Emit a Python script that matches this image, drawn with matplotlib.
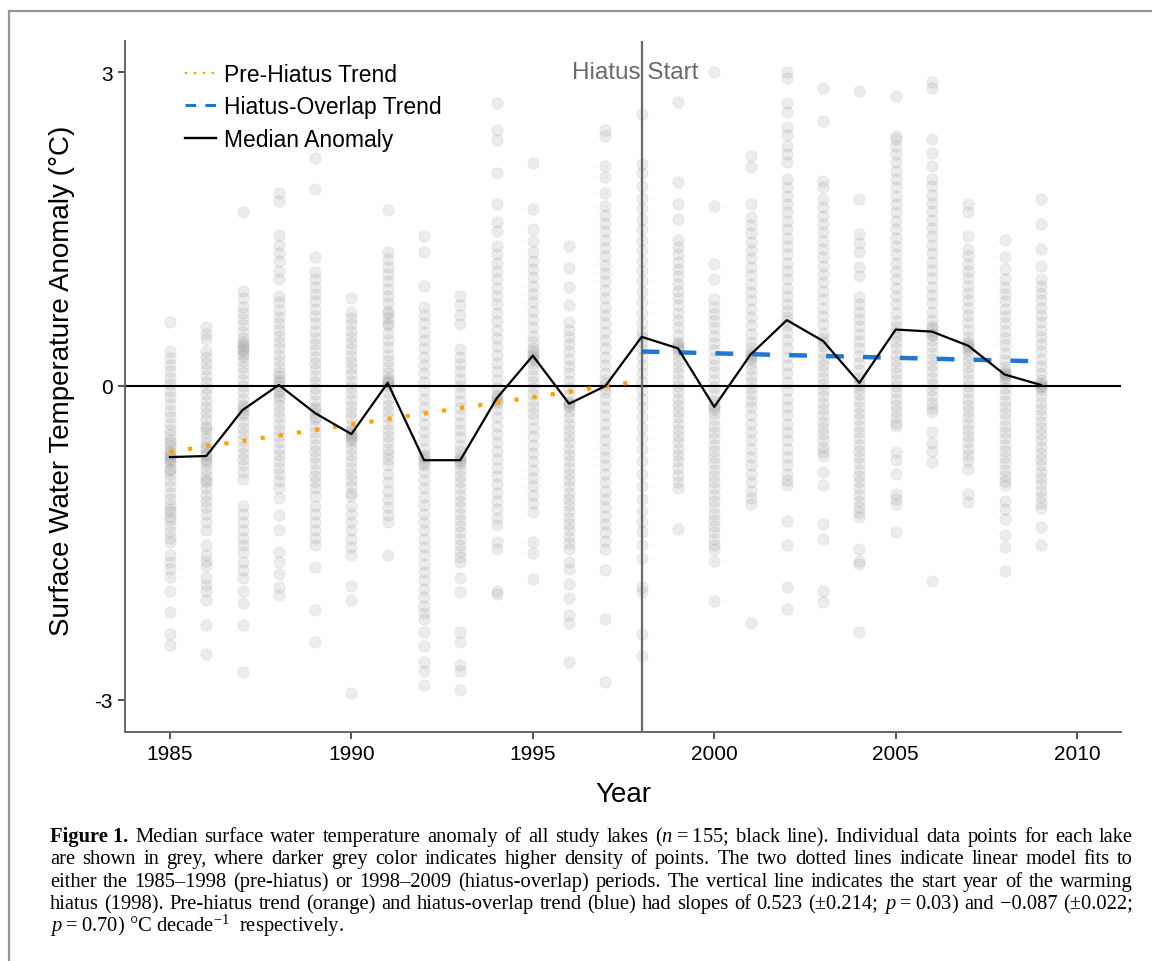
import matplotlib
matplotlib.use("Agg")
import matplotlib.pyplot as plt
import numpy as np
from matplotlib.lines import Line2D

plt.rcParams['font.family'] = ['Liberation Sans', 'DejaVu Sans']
plt.rcParams['mathtext.fontset'] = 'custom'
plt.rcParams['mathtext.rm'] = 'Liberation Serif'
plt.rcParams['mathtext.it'] = 'Liberation Serif:italic'
plt.rcParams['mathtext.bf'] = 'Liberation Serif:bold'

# ---- data ----
years = list(range(1985, 2010))

pts_1985 = [0.61, 0.33, 0.27, 0.20, 0.14, 0.08, 0.02, -0.05, -0.11, -0.17, -0.24, -0.30, -0.36, -0.42, -0.47, -0.52, -0.57, -0.62, -0.66, -0.70, -0.74, -0.79, -0.84, -0.90, -0.96, -1.02, -1.08, -1.14, -1.21, -1.28, -1.34, -1.40, -1.45, -1.49, -1.62, -1.68, -1.75, -1.83, -1.96, -2.16, -2.37, -2.48, -0.55, -0.63, -0.68, -0.72, -0.80, -1.18, -1.25]
pts_1986 = [0.56, 0.50, 0.45, 0.33, 0.28, 0.22, 0.16, 0.10, 0.04, -0.02, -0.08, -0.14, -0.20, -0.26, -0.32, -0.38, -0.44, -0.50, -0.55, -0.60, -0.65, -0.70, -0.75, -0.80, -0.86, -0.92, -0.98, -1.04, -1.10, -1.16, -1.22, -1.30, -1.38, -1.52, -1.62, -1.67, -1.72, -1.84, -1.90, -1.96, -2.05, -2.29, -2.56, -0.58, -0.66, -0.72, -0.40, -0.90]
pts_1987 = [1.66, 0.91, 0.84, 0.76, 0.70, 0.64, 0.58, 0.52, 0.46, 0.42, 0.38, 0.34, 0.29, 0.24, 0.18, 0.12, 0.06, 0.00, -0.06, -0.12, -0.18, -0.23, -0.28, -0.34, -0.40, -0.46, -0.52, -0.58, -0.64, -0.70, -0.76, -0.82, -0.89, -1.15, -1.22, -1.30, -1.38, -1.45, -1.52, -1.59, -1.68, -1.76, -1.84, -1.96, -2.08, -2.29, -2.74, 0.40, 0.35, 0.31, -0.20, -0.26]
pts_1988 = [1.85, 1.77, 1.44, 1.35, 1.27, 1.20, 1.10, 1.02, 0.86, 0.80, 0.73, 0.66, 0.60, 0.54, 0.48, 0.42, 0.36, 0.30, 0.24, 0.18, 0.12, 0.06, 0.00, -0.06, -0.12, -0.18, -0.24, -0.30, -0.36, -0.42, -0.48, -0.54, -0.60, -0.66, -0.72, -0.78, -0.84, -0.91, -0.98, -1.07, -1.23, -1.38, -1.59, -1.68, -1.80, -1.92, -2.00, 0.04, -0.04, 0.10, -0.10]
pts_1989 = [2.18, 1.88, 1.23, 1.09, 1.02, 0.95, 0.88, 0.81, 0.74, 0.67, 0.60, 0.53, 0.46, 0.40, 0.34, 0.28, 0.22, 0.16, 0.10, 0.04, -0.02, -0.08, -0.14, -0.20, -0.26, -0.32, -0.38, -0.44, -0.50, -0.56, -0.62, -0.68, -0.74, -0.80, -0.86, -0.92, -0.98, -1.05, -1.15, -1.22, -1.30, -1.38, -1.45, -1.52, -1.73, -2.14, -2.45, -0.22, -0.30]
pts_1990 = [0.84, 0.71, 0.65, 0.59, 0.53, 0.47, 0.41, 0.35, 0.29, 0.23, 0.17, 0.11, 0.05, -0.01, -0.07, -0.13, -0.19, -0.25, -0.31, -0.37, -0.42, -0.46, -0.50, -0.55, -0.60, -0.66, -0.72, -0.78, -0.84, -0.90, -0.96, -1.02, -1.05, -1.15, -1.22, -1.30, -1.38, -1.46, -1.54, -1.62, -1.91, -2.05, -2.94, -0.44, -0.48, -0.52]
pts_1991 = [1.68, 1.28, 1.21, 1.14, 1.07, 1.00, 0.93, 0.86, 0.79, 0.72, 0.65, 0.58, 0.51, 0.44, 0.37, 0.30, 0.24, 0.18, 0.12, 0.06, 0.03, 0.00, -0.06, -0.12, -0.18, -0.24, -0.30, -0.36, -0.42, -0.48, -0.54, -0.60, -0.65, -0.70, -0.76, -0.84, -0.92, -1.00, -1.08, -1.16, -1.23, -1.30, -1.62, 0.70, 0.60, 0.04, 0.08]
pts_1992 = [1.43, 1.28, 0.96, 0.76, 0.68, 0.60, 0.52, 0.44, 0.36, 0.28, 0.20, 0.12, 0.04, -0.04, -0.12, -0.20, -0.28, -0.36, -0.44, -0.52, -0.60, -0.66, -0.71, -0.76, -0.82, -0.90, -0.98, -1.06, -1.14, -1.22, -1.30, -1.38, -1.46, -1.54, -1.62, -1.70, -1.78, -1.86, -1.94, -2.02, -2.10, -2.17, -2.23, -2.35, -2.49, -2.64, -2.73, -2.86, -0.68, -0.74]
pts_1993 = [0.86, 0.77, 0.68, 0.59, 0.35, 0.28, 0.21, 0.14, 0.07, 0.00, -0.07, -0.14, -0.21, -0.28, -0.35, -0.42, -0.49, -0.56, -0.62, -0.67, -0.71, -0.75, -0.80, -0.86, -0.92, -0.98, -1.04, -1.10, -1.16, -1.22, -1.28, -1.34, -1.40, -1.46, -1.52, -1.58, -1.64, -1.68, -1.84, -1.97, -2.35, -2.45, -2.67, -2.73, -2.91, -0.69, -0.73]
pts_1994 = [2.71, 2.45, 2.35, 2.04, 1.74, 1.57, 1.48, 1.34, 1.26, 1.18, 1.10, 1.02, 0.94, 0.86, 0.78, 0.70, 0.62, 0.54, 0.46, 0.38, 0.30, 0.22, 0.14, 0.06, -0.02, -0.08, -0.12, -0.16, -0.22, -0.30, -0.38, -0.46, -0.54, -0.62, -0.70, -0.78, -0.86, -0.94, -1.02, -1.10, -1.18, -1.26, -1.33, -1.49, -1.56, -1.96, -1.99, -0.10, -0.14]
pts_1995 = [2.13, 1.69, 1.50, 1.39, 1.28, 1.20, 1.12, 1.04, 0.96, 0.88, 0.80, 0.72, 0.64, 0.56, 0.48, 0.42, 0.36, 0.31, 0.27, 0.22, 0.16, 0.10, 0.04, -0.02, -0.08, -0.14, -0.20, -0.26, -0.32, -0.40, -0.48, -0.56, -0.64, -0.72, -0.80, -0.88, -0.96, -1.04, -1.12, -1.21, -1.49, -1.60, -1.85, 0.29, 0.33, 0.25]
pts_1996 = [1.34, 1.13, 0.95, 0.77, 0.61, 0.54, 0.47, 0.40, 0.33, 0.26, 0.19, 0.12, 0.05, -0.02, -0.09, -0.15, -0.19, -0.24, -0.30, -0.36, -0.42, -0.48, -0.54, -0.60, -0.66, -0.72, -0.78, -0.84, -0.90, -0.96, -1.02, -1.08, -1.14, -1.20, -1.26, -1.32, -1.38, -1.44, -1.50, -1.56, -1.68, -1.75, -1.89, -2.03, -2.19, -2.27, -2.64, -0.16, -0.18]
pts_1997 = [2.45, 2.39, 2.10, 2.00, 1.85, 1.72, 1.64, 1.56, 1.48, 1.40, 1.32, 1.24, 1.16, 1.08, 1.00, 0.92, 0.84, 0.76, 0.68, 0.60, 0.52, 0.44, 0.36, 0.28, 0.20, 0.12, 0.06, 0.02, -0.02, -0.06, -0.12, -0.20, -0.28, -0.36, -0.44, -0.52, -0.60, -0.68, -0.76, -0.84, -0.92, -1.00, -1.08, -1.16, -1.24, -1.32, -1.40, -1.48, -1.56, -1.76, -2.23, -2.83]
pts_1998 = [2.60, 2.12, 2.04, 1.91, 1.80, 1.70, 1.60, 1.50, 1.40, 1.30, 1.20, 1.10, 1.00, 0.90, 0.80, 0.70, 0.60, 0.52, 0.47, 0.42, 0.35, 0.28, 0.20, 0.12, 0.04, -0.04, -0.12, -0.20, -0.30, -0.40, -0.50, -0.60, -0.72, -0.84, -0.96, -1.08, -1.20, -1.30, -1.40, -1.52, -1.65, -1.92, -1.97, -2.37, -2.58]
pts_1999 = [2.72, 1.95, 1.74, 1.60, 1.40, 1.33, 1.26, 1.19, 1.12, 1.05, 0.98, 0.91, 0.84, 0.77, 0.70, 0.63, 0.56, 0.49, 0.42, 0.38, 0.34, 0.30, 0.24, 0.18, 0.12, 0.06, 0.00, -0.06, -0.12, -0.18, -0.24, -0.30, -0.36, -0.42, -0.48, -0.54, -0.60, -0.66, -0.72, -0.78, -0.85, -0.92, -0.98, -1.37, 0.36, 0.40]
pts_2000 = [3.00, 1.72, 1.17, 1.02, 0.83, 0.76, 0.69, 0.62, 0.55, 0.48, 0.41, 0.34, 0.27, 0.20, 0.13, 0.06, -0.01, -0.08, -0.14, -0.18, -0.22, -0.26, -0.32, -0.38, -0.44, -0.50, -0.56, -0.62, -0.68, -0.74, -0.80, -0.86, -0.92, -0.98, -1.04, -1.10, -1.16, -1.22, -1.28, -1.34, -1.40, -1.46, -1.52, -1.56, -1.67, -2.06, -0.20]
pts_2001 = [2.20, 2.09, 1.74, 1.62, 1.54, 1.46, 1.38, 1.30, 1.22, 1.14, 1.06, 0.98, 0.90, 0.82, 0.74, 0.66, 0.58, 0.50, 0.42, 0.36, 0.32, 0.28, 0.22, 0.16, 0.10, 0.04, -0.02, -0.08, -0.14, -0.20, -0.28, -0.36, -0.44, -0.52, -0.60, -0.68, -0.76, -0.84, -0.92, -1.00, -1.07, -1.13, -2.27, 0.30, 0.26]
pts_2002 = [3.00, 2.95, 2.71, 2.62, 2.48, 2.40, 2.30, 2.22, 2.14, 1.98, 1.90, 1.82, 1.74, 1.66, 1.58, 1.50, 1.42, 1.34, 1.26, 1.18, 1.10, 1.02, 0.94, 0.86, 0.78, 0.72, 0.66, 0.62, 0.58, 0.52, 0.44, 0.36, 0.28, 0.20, 0.12, 0.04, -0.04, -0.12, -0.20, -0.28, -0.36, -0.44, -0.52, -0.60, -0.68, -0.76, -0.84, -0.90, -0.95, -1.29, -1.52, -1.92, -2.13]
pts_2003 = [2.85, 2.53, 1.96, 1.90, 1.79, 1.71, 1.63, 1.55, 1.47, 1.39, 1.31, 1.23, 1.15, 1.07, 0.99, 0.91, 0.83, 0.75, 0.67, 0.59, 0.51, 0.46, 0.42, 0.38, 0.32, 0.26, 0.20, 0.14, 0.08, 0.02, -0.04, -0.10, -0.16, -0.22, -0.28, -0.34, -0.40, -0.46, -0.52, -0.58, -0.63, -0.67, -0.82, -0.95, -1.32, -1.46, -1.96, -2.07]
pts_2004 = [2.82, 1.79, 1.45, 1.37, 1.28, 1.14, 1.05, 0.85, 0.78, 0.71, 0.64, 0.57, 0.50, 0.43, 0.36, 0.29, 0.22, 0.15, 0.08, 0.04, 0.01, -0.03, -0.08, -0.14, -0.20, -0.26, -0.32, -0.38, -0.44, -0.50, -0.56, -0.62, -0.68, -0.74, -0.80, -0.86, -0.92, -0.98, -1.04, -1.10, -1.16, -1.21, -1.25, -1.56, -1.67, -1.70, -2.35]
pts_2005 = [2.77, 2.39, 2.36, 2.30, 2.22, 2.14, 2.06, 1.98, 1.90, 1.82, 1.74, 1.66, 1.58, 1.50, 1.42, 1.34, 1.26, 1.18, 1.10, 1.02, 0.94, 0.86, 0.78, 0.70, 0.62, 0.56, 0.52, 0.48, 0.42, 0.36, 0.30, 0.24, 0.18, 0.12, 0.06, 0.00, -0.06, -0.12, -0.18, -0.24, -0.30, -0.35, -0.38, -0.63, -0.71, -0.84, -1.03, -1.08, -1.13, -1.40]
pts_2006 = [2.91, 2.85, 2.36, 2.23, 2.10, 1.98, 1.91, 1.83, 1.75, 1.67, 1.59, 1.51, 1.43, 1.35, 1.27, 1.19, 1.11, 1.03, 0.95, 0.87, 0.79, 0.71, 0.63, 0.57, 0.53, 0.49, 0.44, 0.38, 0.32, 0.26, 0.20, 0.14, 0.08, 0.02, -0.04, -0.10, -0.16, -0.21, -0.25, -0.44, -0.55, -0.62, -0.73, -1.87, 0.50, 0.55]
pts_2007 = [1.74, 1.66, 1.43, 1.31, 1.24, 1.17, 1.10, 1.03, 0.96, 0.89, 0.82, 0.75, 0.68, 0.61, 0.54, 0.47, 0.42, 0.38, 0.34, 0.30, 0.24, 0.18, 0.12, 0.06, 0.00, -0.06, -0.12, -0.18, -0.24, -0.30, -0.36, -0.42, -0.48, -0.54, -0.60, -0.66, -0.72, -0.79, -1.03, -1.11, 0.36, 0.40]
pts_2008 = [1.40, 1.23, 1.12, 1.02, 0.95, 0.88, 0.81, 0.74, 0.67, 0.60, 0.53, 0.46, 0.39, 0.32, 0.25, 0.18, 0.14, 0.11, 0.08, 0.04, -0.02, -0.08, -0.14, -0.20, -0.26, -0.32, -0.38, -0.44, -0.50, -0.56, -0.62, -0.68, -0.74, -0.80, -0.86, -0.91, -0.95, -1.10, -1.18, -1.27, -1.43, -1.54, -1.77, 0.10, 0.12]
pts_2009 = [1.79, 1.55, 1.31, 1.15, 1.02, 0.96, 0.89, 0.82, 0.75, 0.68, 0.61, 0.54, 0.47, 0.40, 0.33, 0.26, 0.19, 0.12, 0.06, 0.02, -0.01, -0.04, -0.10, -0.16, -0.22, -0.28, -0.34, -0.40, -0.46, -0.52, -0.58, -0.64, -0.70, -0.76, -0.82, -0.88, -0.94, -1.00, -1.06, -1.12, -1.17, -1.35, -1.52, 0.00, 0.03]

lake_points = [pts_1985, pts_1986, pts_1987, pts_1988, pts_1989, pts_1990, pts_1991,
               pts_1992, pts_1993, pts_1994, pts_1995, pts_1996, pts_1997, pts_1998,
               pts_1999, pts_2000, pts_2001, pts_2002, pts_2003, pts_2004, pts_2005,
               pts_2006, pts_2007, pts_2008, pts_2009]

median_anomaly = [-0.68, -0.67, -0.23, 0.01, -0.26, -0.46, 0.03, -0.71, -0.71, -0.12,
                  0.29, -0.17, 0.00, 0.47, 0.36, -0.20, 0.30, 0.63, 0.43, 0.03,
                  0.54, 0.52, 0.385, 0.11, 0.01]

pre_years = [1985, 1998]
pre_trend = [-0.63, 0.05]
hiatus_years = [1998, 2009]
hiatus_trend = [0.33, 0.235]

hiatus_start = 1998
xticks = [1985, 1990, 1995, 2000, 2005, 2010]
yticks = [-3, 0, 3]
ytick_labels = ['-3', '0', '3']

caption_lines = [
    "**Figure~1. Median surface water temperature anomaly of all study lakes ($n$\u2009=\u2009155; black line). Individual data points for each lake",
    "are shown in grey, where darker grey color indicates higher density of points. The two dotted lines indicate linear model fits to",
    "either the 1985\u20131998 (pre-hiatus) or 1998\u20132009 (hiatus-overlap) periods. The vertical line indicates the start year of the warming",
    "hiatus (1998). Pre-hiatus trend (orange) and hiatus-overlap trend (blue) had slopes of 0.523 (\u00b10.214; $p$\u2009=\u20090.03) and \u22120.087 (\u00b10.022;",
    "$p$\u2009=\u20090.70)~\u00b0C~decade$^{-1}$~~respectively.",
]

# ---- figure ----
W, H = 1152, 962
fig = plt.figure(figsize=(W / 100, H / 100), dpi=100)
ax = fig.add_axes([125 / W, 1 - 733 / H, (1121 - 125) / W, (733 - 42) / H])

for yr, vals in zip(years, lake_points):
    ax.scatter(np.full(len(vals), yr), vals, s=66, color='#8a8a8a', alpha=0.16,
               edgecolors='#7a7a7a', linewidths=0.5, zorder=1)

ax.axhline(0, color='black', lw=1.5, zorder=2)
ax.axvline(hiatus_start, color='#6a6a6a', lw=1.6, zorder=3)
ax.text(hiatus_start - 0.18, 3.0, 'Hiatus Start', color='#6a6a6a', fontsize=17.5,
        ha='center', va='center', zorder=2)

ax.plot(pre_years, pre_trend, color='#FFA200', lw=3.0, linestyle=(0, (1, 3.4)),
        dash_capstyle='butt', zorder=4)
ax.plot(hiatus_years, hiatus_trend, color='#1f77d0', lw=3.2, linestyle=(0, (4, 4.3)),
        dash_capstyle='butt', zorder=4)
ax.plot(years, median_anomaly, color='black', lw=1.6, zorder=5)

ax.set_xlim(1983.76, 2011.21)
ax.set_ylim(-3.31, 3.30)
ax.set_xticks(xticks)
ax.set_xticklabels([str(t) for t in xticks])
ax.set_yticks(yticks)
ax.set_yticklabels(ytick_labels)
ax.tick_params(labelsize=15, length=5, width=1.3, color='#444444', pad=4)

for side in ['top', 'right']:
    ax.spines[side].set_visible(False)
for side in ['left', 'bottom']:
    ax.spines[side].set_color('#666666')
    ax.spines[side].set_linewidth(1.4)

ax.set_ylabel('Surface Water Temperature Anomaly (\u00b0C)', fontsize=20)
ax.yaxis.set_label_coords(-0.050, 0.51)
ax.set_xlabel('Year', fontsize=20)
ax.xaxis.set_label_coords(0.5, -0.071)

handles = [
    Line2D([], [], color='#FFA200', lw=1.6, linestyle=(0, (1, 3))),
    Line2D([], [], color='#1f77d0', lw=2.2, linestyle=(0, (3.5, 3))),
    Line2D([], [], color='black', lw=1.7),
]
ax.legend(handles, ['Pre-Hiatus Trend', 'Hiatus-Overlap Trend', 'Median Anomaly'],
          loc='upper left', bbox_to_anchor=(0.051, 0.982), frameon=False,
          fontsize=16.5, handlelength=1.35, handletextpad=0.35, labelspacing=0.42,
          borderaxespad=0)

# frame around the figure (left and top edges)
fig.add_artist(Line2D([9 / W, 9 / W], [0, 1 - 12 / H], color='#969696', lw=1.6))
fig.add_artist(Line2D([9 / W, 1], [1 - 12 / H, 1 - 12 / H], color='#969696', lw=1.6))

# ---- caption, justified word by word ----
renderer = fig.canvas.get_renderer()
cap_left, cap_right = 50, 1133
cap_size = 14.8
for i, line in enumerate(caption_lines):
    y = 1 - (842 + 22.5 * i) / H
    texts = []
    for w in line.split(' '):
        bold = w.startswith('**')
        s = w.lstrip('*').replace('~', ' ')
        t = fig.text(0, y, s, fontsize=cap_size, family=['Liberation Serif', 'DejaVu Serif'],
                     fontweight='bold' if bold else 'normal', va='baseline', ha='left')
        texts.append(t)
    widths = [t.get_window_extent(renderer).width for t in texts]
    last = i == len(caption_lines) - 1
    gap = 4.5 if last else (cap_right - cap_left - sum(widths)) / (len(texts) - 1)
    gap = max(gap, 2.0)
    x = cap_left
    for t, wd in zip(texts, widths):
        t.set_x(x / W)
        x += wd + gap

fig.savefig('out.png', dpi=100)
